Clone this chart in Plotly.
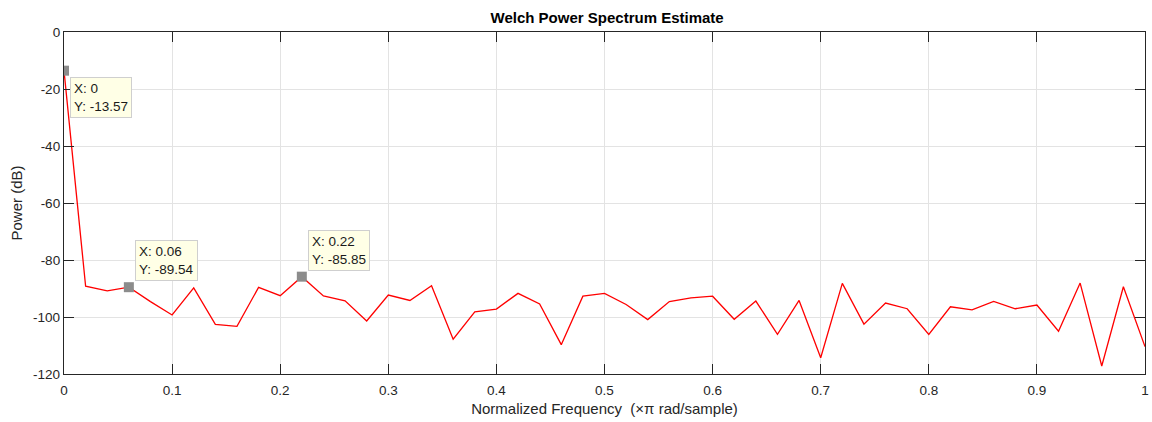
import plotly.graph_objects as go

# Normalized frequency (x pi rad/sample) and Welch PSD estimate (dB)
freq = [round(i * 0.02, 2) for i in range(51)]
power_db = [
    -13.57, -89.2, -90.8, -89.54, -94.6, -99.3, -89.8, -102.6, -103.3, -89.6,
    -92.5, -85.85, -92.6, -94.3, -101.4, -92.3, -94.2, -89.0, -107.8, -98.2,
    -97.2, -91.7, -95.4, -109.7, -92.7, -91.7, -95.6, -100.9, -94.6, -93.3,
    -92.7, -100.8, -94.4, -106.1, -94.2, -114.3, -88.2, -102.5, -95.1, -97.1,
    -106.1, -96.4, -97.5, -94.5, -97.1, -95.8, -105.0, -88.1, -117.2, -89.4,
    -110.4,
]
# indices of the data tips shown on the curve
tip_idx = [0, 3, 11]

x_ticks = [0, 0.1, 0.2, 0.3, 0.4, 0.5, 0.6, 0.7, 0.8, 0.9, 1]
x_tick_text = ["0", "0.1", "0.2", "0.3", "0.4", "0.5", "0.6", "0.7", "0.8", "0.9", "1"]
y_ticks = [-120, -100, -80, -60, -40, -20, 0]
y_tick_text = ["-120", "-100", "-80", "-60", "-40", "-20", "0"]

FONT = "Liberation Sans, Arial, Helvetica, sans-serif"
AX = "#262626"

fig = go.Figure()
fig.add_trace(go.Scatter(
    x=freq, y=power_db, mode="lines",
    line=dict(color="#ff0000", width=1.3),
    hoverinfo="skip", showlegend=False,
))
fig.add_trace(go.Scatter(
    x=[freq[i] for i in tip_idx], y=[power_db[i] for i in tip_idx],
    mode="markers",
    marker=dict(symbol="square", size=10, color="#8c8c8c", line=dict(width=0)),
    hoverinfo="skip", showlegend=False,
))

# data tip boxes: placement relative to the marked point
tip_place = [
    dict(xshift=6, yshift=-6, xanchor="left", yanchor="top"),
    dict(xshift=6, yshift=6, xanchor="left", yanchor="bottom"),
    dict(xshift=6, yshift=6, xanchor="left", yanchor="bottom"),
]
for i, pl in zip(tip_idx, tip_place):
    fx, fy = freq[i], power_db[i]
    fig.add_annotation(
        x=fx, y=fy, xref="x", yref="y",
        text=f"X: {fx:g}<br>Y: {fy:.2f}",
        showarrow=False, align="left",
        font=dict(family=FONT, size=13.5, color="#1a1a1a"),
        bgcolor="#ffffe6", bordercolor="#cfcfcf", borderwidth=1, borderpad=3,
        **pl,
    )

axis_common = dict(
    showline=True, linecolor=AX, linewidth=1.3, mirror="ticks",
    ticks="inside", ticklen=10, tickcolor=AX, tickwidth=1.3,
    showgrid=True, gridcolor="#e3e3e3", gridwidth=1,
    zeroline=False,
    tickfont=dict(family=FONT, size=13.5, color=AX),
    ticklabeloverflow="allow",
)

fig.update_layout(
    width=1152, height=422,
    margin=dict(l=64, r=3, t=32, b=48),
    paper_bgcolor="white", plot_bgcolor="white",
    title=dict(
        text="<b>Welch Power Spectrum Estimate</b>",
        x=0.527, xanchor="center", y=0.957, yanchor="middle",
        font=dict(family=FONT, size=15, color="#000000"),
    ),
    xaxis=dict(
        range=[0, 1], tickvals=x_ticks, ticktext=x_tick_text,
        ticklabelstandoff=4,
        title=dict(text="Normalized Frequency  (\u00d7\u03c0 rad/sample)",
                   font=dict(family=FONT, size=15, color=AX), standoff=6),
        **axis_common,
    ),
    yaxis=dict(
        range=[-120, 0], tickvals=y_ticks, ticktext=y_tick_text,
        title=dict(text="Power (dB)", font=dict(family=FONT, size=15, color=AX), standoff=6),
        **axis_common,
    ),
)

fig.write_html("out.html")
